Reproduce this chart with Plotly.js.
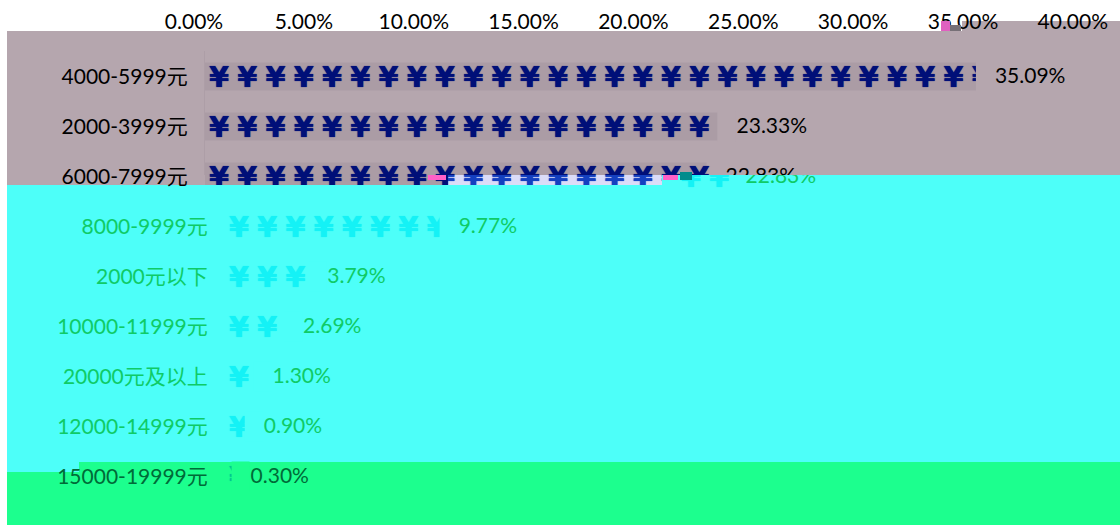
<!DOCTYPE html>
<html>
<head>
<meta charset="utf-8">
<script src="https://cdn.plot.ly/plotly-3.0.1.min.js"></script>
<style>html,body{margin:0;padding:0;background:#fff}</style>
</head>
<body>
<div id="chart" style="width:1120px;height:525px"></div>
<script>
var categories = ['4000-5999元','2000-3999元','6000-7999元','8000-9999元','2000元以下','10000-11999元','20000元及以上','12000-14999元','15000-19999元'];
var shares = [35.09,23.33,22.83,9.77,3.79,2.69,1.30,0.90,0.30];
var axisTicks = [0,5,10,15,20,25,30,35,40];

var W=1120,H=525,PX=21.97,X0=205,ROW0=76.5,ROWH=50,SLOT=28.25;
var FONT='Lato, "Noto Sans CJK SC", sans-serif', SIZE=21;
var MAUVE='#b5a6ae',CYAN='#4dfff9',SPRING='#1cff8e',LAV='#dbdcf8';
var NAVY='#000f78',BLUE='#1440c0',AQUA='#14f2f6',DARK='#000000',GREEN='#0fcb66',DGREEN='#006b38';

function fx(p){return p/W} function fy(p){return 1-p/H}
var slot=SLOT/PX, gap=19/PX, minSliver=6/PX;
function rect(x0,y0,x1,y1,c,layer){return {type:'rect',xref:'paper',yref:'paper',x0:fx(x0),x1:fx(x1),y0:fy(y1),y1:fy(y0),fillcolor:c,line:{width:0},layer:layer||'below'}}

var shapes=[
 rect(7,31,W,185,MAUVE), rect(962,21,W,31,MAUVE),
 rect(7,185,W,472,CYAN), rect(662,175,W,185,CYAN),
 rect(448,175,662,185,LAV),
 rect(7,472,W,H,SPRING), rect(79,462,W,472,SPRING),
 rect(941,21,950,31,'#e060c0','above'), rect(950,25,961,31,'#777077','above'),
 rect(428,175,446,180,'#ff60c8','above'), rect(663,175,678,180,'#ff60c8','above'),
 rect(680,172,692,180,'#008c8c','above')
];

var layout={width:W,height:H,margin:{l:0,r:0,t:0,b:0},paper_bgcolor:'#fff',plot_bgcolor:'rgba(0,0,0,0)',showlegend:false,hovermode:false,shapes:shapes,bargap:0.44};
var traces=[];

function panel(n,x0,x1,y0,y1,shift,rows,opt){
  var s=n===1?'':String(n), xn='xaxis'+s, yn='yaxis'+s, xa='x'+s, ya='y'+s;
  layout[xn]={domain:[fx(x0),fx(x1)],range:[(x0-X0-shift)/PX,(x1-X0-shift)/PX],anchor:ya,visible:false,fixedrange:true};
  var labels=opt.labels||[];
  layout[yn]={domain:[fy(y1),fy(y0)],type:'linear',
    range:[(y1-ROW0)/ROWH,(y0-ROW0)/ROWH],anchor:xa,tickmode:'array',tickvals:labels,ticktext:labels.map(function(i){return categories[i]}),
    ticks:'outside',ticklen:12,tickcolor:'rgba(0,0,0,0)',tickfont:{family:FONT,size:SIZE,color:opt.text},showgrid:false,zeroline:false,
    showline:!!opt.line,linecolor:opt.line||'rgba(0,0,0,0)',fixedrange:true};
  if(opt.bar){traces.push({type:'bar',orientation:'h',x:rows.map(function(i){return shares[i]}),y:rows,xaxis:xa,yaxis:ya,marker:{color:opt.bar,line:{width:0}},width:0.56});}
  var yx=[],yy=[];
  rows.forEach(function(i){
    for(var k=(opt.from&&opt.from[i])||0;k*slot+minSliver<shares[i];k++){yx.push((k+0.5)*slot);yy.push(i+0.06);}
  });
  if(opt.yen)traces.push({type:'scatter',mode:'text',x:yx,y:yy,text:yx.map(function(){return '¥'}),textposition:'middle center',textfont:{family:'"DejaVu Sans", sans-serif',size:29,color:opt.yen,weight:'bold',shadow:'0 0 1px '+opt.yen},xaxis:xa,yaxis:ya,cliponaxis:true});
  if(opt.values){traces.push({type:'scatter',mode:'text',x:opt.values.map(function(i){return shares[i]+gap}),y:opt.values.map(function(i){return i+0.02}),text:opt.values.map(function(i){return shares[i].toFixed(2)+'%'}),textposition:'middle right',textfont:{family:FONT,size:SIZE,color:opt.text},xaxis:xa,yaxis:ya,cliponaxis:true});}
}

// upper part: rows cut at the band edge
panel(1,X0,W,51,175,0,[0,1,2],{labels:[0,1],text:DARK,bar:'#ab9ca5',yen:NAVY,values:[0,1,2],line:'#ad9ea7'});
panel(2,225,W,175,462,20,[2,3,4,5,6,7],{labels:[3,4,5,6,7],text:GREEN,yen:AQUA,values:[2,3,4,5,6,7],from:{2:16}});
panel(3,225,W,462,H,20,[8],{labels:[8],text:DGREEN,yen:'#00c890',values:[8]});
panel(4,X0,448,175,185,0,[2],{labels:[2],text:DARK,bar:'#ab9ca5',yen:NAVY});
panel(5,448,662,175,185,0,[2],{text:DARK,yen:BLUE});

// top axis labels
layout.xaxis6={domain:[fx(194),fx(194+40*PX+11)],range:[0,40+11/PX],side:'top',anchor:'y6',tickmode:'array',tickvals:axisTicks,ticktext:axisTicks.map(function(v){return v.toFixed(2)+'%'}),ticks:'',showgrid:false,zeroline:false,showline:false,tickfont:{family:FONT,size:SIZE,color:DARK},fixedrange:true};
layout.yaxis6={domain:[fy(54),fy(34)],range:[0,1],anchor:'x6',visible:false,fixedrange:true};
traces.push({type:'scatter',mode:'none',x:axisTicks,y:axisTicks.map(function(){return 0}),xaxis:'x6',yaxis:'y6'});

// the icons stop exactly at each bar's value
var refs=['x','x','x','x2','x2','x2','x2','x2','x3'], backs=[MAUVE,MAUVE,null,CYAN,CYAN,CYAN,CYAN,CYAN,SPRING];
shares.forEach(function(v,i){
  if(!backs[i])return;
  var c=ROW0+i*ROWH;
  layout.shapes.push({type:'rect',xref:refs[i],yref:'paper',x0:v,x1:v+18/PX,y0:fy(c+15),y1:fy(c-15),fillcolor:backs[i],line:{width:0},layer:'above'});
});

Plotly.newPlot('chart',traces,layout,{displayModeBar:false,staticPlot:true});
</script>
</body>
</html>
